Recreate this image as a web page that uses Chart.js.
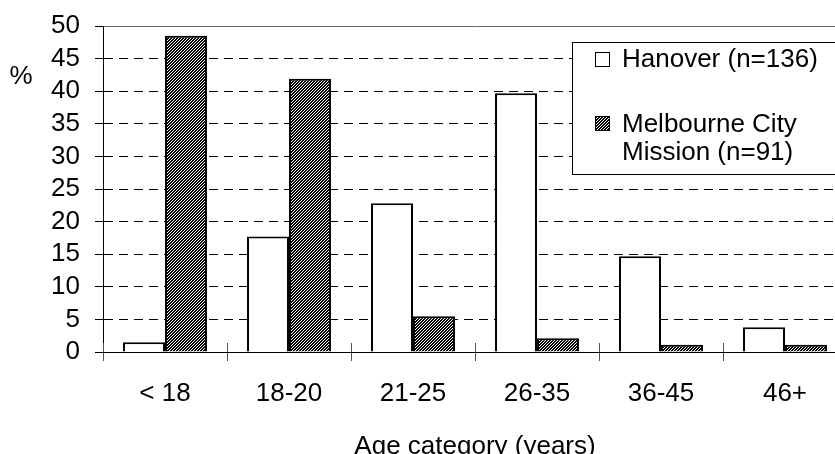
<!DOCTYPE html>
<html><head><meta charset="utf-8">
<script src="https://cdn.jsdelivr.net/npm/chart.js@4"></script>
<style>
html,body{margin:0;padding:0;background:#fff;overflow:hidden;width:835px;height:454px;}
#wrap{position:absolute;left:0;top:0;width:860px;height:470px;}
</style></head><body>
<div id="wrap"><canvas id="c" width="860" height="470"></canvas></div>
<script>
const categories = ['< 18', '18-20', '21-25', '26-35', '36-45', '46+'];
const hanover = [1.5, 17.7, 22.8, 39.7, 14.7, 3.8];
const mcm = [48.5, 41.9, 5.5, 2.1, 1.1, 1.1];
const seriesNames = ['Hanover (n=136)', 'Melbourne City Mission (n=91)'];
const legendLines = [['Hanover (n=136)'], ['Melbourne City', 'Mission (n=91)']];
const yTickValues = [0, 5, 10, 15, 20, 25, 30, 35, 40, 45, 50];
const yTitle = '%';
const xTitle = 'Age category (years)';

const FONT = "'Liberation Sans', Arial, sans-serif";
const FS = 26;

function makeHatch() {
  const p = document.createElement('canvas');
  p.width = 3; p.height = 3;
  const g = p.getContext('2d');
  g.fillStyle = '#fff'; g.fillRect(0, 0, 3, 3);
  g.fillStyle = '#000';
  for (let x = 0; x < 3; x++) for (let y = 0; y < 3; y++) {
    if (((x + y) % 3) !== 0) g.fillRect(x, y, 1, 1);
  }
  return document.getElementById('c').getContext('2d').createPattern(p, 'repeat');
}
const hatch = makeHatch();

const extras = {
  id: 'extras',
  afterDraw(chart) {
    const ctx = chart.ctx;
    const area = chart.chartArea;
    ctx.save();
    ctx.strokeStyle = '#555';
    ctx.lineWidth = 1;
    const n = categories.length;
    const w = (area.right - area.left) / n;
    for (let i = 0; i <= n; i++) {
      const x = Math.round(area.left + i * w) + 0.5;
      ctx.beginPath();
      ctx.moveTo(x, area.bottom - 9);
      ctx.lineTo(x, area.bottom);
      ctx.stroke();
    }
    ctx.fillStyle = '#000';
    ctx.font = FS + 'px ' + FONT;
    ctx.textAlign = 'center';
    ctx.textBaseline = 'middle';
    ctx.fillText(yTitle, 21, 77);
    ctx.fillStyle = '#fff';
    ctx.fillRect(572, 42, 280, 132);
    ctx.strokeStyle = '#000';
    ctx.lineWidth = 1;
    ctx.strokeRect(572.5, 42.5, 280, 132);
    const fills = ['#fff', hatch];
    const sy = [52, 116];
    const ty = [[60], [125, 153]];
    for (let k = 0; k < 2; k++) {
      ctx.fillStyle = fills[k];
      ctx.fillRect(595, sy[k], 15, 15);
      ctx.strokeStyle = '#000';
      ctx.lineWidth = 1;
      ctx.strokeRect(595.5, sy[k] + 0.5, 14, 14);
      ctx.fillStyle = '#000';
      ctx.textAlign = 'left';
      legendLines[k].forEach((t, j) => ctx.fillText(t, 622, ty[k][j]));
    }
    ctx.restore();
  }
};

new Chart(document.getElementById('c'), {
  type: 'bar',
  data: {
    labels: categories,
    datasets: [
      { label: seriesNames[0], data: hanover, backgroundColor: '#fff', borderColor: '#000', borderWidth: 2 },
      { label: seriesNames[1], data: mcm, backgroundColor: hatch, borderColor: '#000', borderWidth: 2 }
    ]
  },
  options: {
    responsive: false,
    animation: false,
    devicePixelRatio: 1,
    layout: { padding: { top: 26, right: 13, left: 0, bottom: 0 } },
    datasets: { bar: { categoryPercentage: 0.677, barPercentage: 1.0 } },
    plugins: { legend: { display: false }, tooltip: { enabled: false } },
    scales: {
      x: {
        offset: true,
        grid: { offset: true, drawOnChartArea: false, drawTicks: true, tickLength: 9, color: '#555', lineWidth: 1 },
        border: { display: true, color: '#000', width: 1 },
        ticks: { color: '#000', font: { family: FONT, size: FS }, padding: 17, maxRotation: 0, autoSkip: false },
        title: { display: true, text: xTitle, color: '#000', font: { family: FONT, size: FS }, padding: { top: 0, bottom: 8 } },
        afterFit(s) { s.height = 118; s.paddingLeft = 0; s.paddingRight = 0; }
      },
      y: {
        min: 0, max: 50,
        afterBuildTicks(s) { s.ticks = yTickValues.map(v => ({ value: v })); },
        grid: {
          color: (c) => (c.tick && c.tick.value === 50) ? '#666' : '#000',
          lineWidth: 1, drawTicks: true, tickLength: 8, tickBorderDash: [], tickColor: '#000'
        },
        border: { display: true, color: '#000', width: 1, dash: (c) => (c.tick && c.tick.value === 50) ? [] : [9, 6] },
        ticks: { color: '#000', font: { family: FONT, size: FS }, padding: 15, autoSkip: false },
        afterFit(s) { s.width = 103; s.paddingTop = 0; s.paddingBottom = 0; }
      }
    }
  },
  plugins: [extras]
});
</script>
</body></html>
